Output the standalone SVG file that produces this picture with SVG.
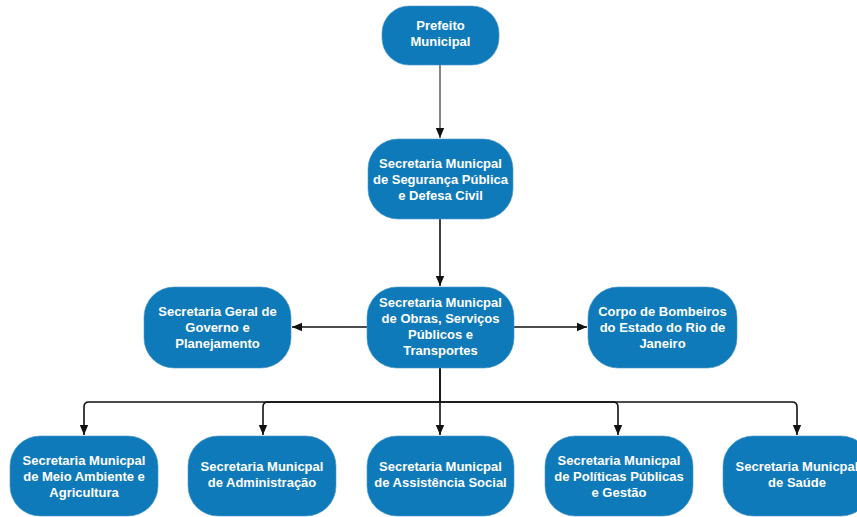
<svg xmlns="http://www.w3.org/2000/svg" width="857" height="517" viewBox="0 0 857 517">
<style>
.n{fill:#0f7ab9;stroke:#4f97c9;stroke-width:0.6}
.t{font-family:"Liberation Sans",Arial,sans-serif;font-weight:bold;font-size:13px;fill:#fff;text-anchor:middle}
.c{fill:none;stroke:#111;stroke-width:1.6}
</style>
<defs>
<marker id="a" markerUnits="userSpaceOnUse" markerWidth="10" markerHeight="10" refX="10" refY="5" orient="auto">
<path d="M0,0.8 L10,5 L0,9.2 z" fill="#111"/>
</marker>
</defs>
<rect width="857" height="517" fill="#fff"/>
<g id="connectors">
<path class="c" style="stroke:#666" d="M440,65 V138" marker-end="url(#a)"/>
<path class="c" d="M440,219 V286" marker-end="url(#a)"/>
<path class="c" d="M367,327 H292" marker-end="url(#a)"/>
<path class="c" d="M514,327 H587" marker-end="url(#a)"/>
<path class="c" d="M440,368 V402 H89 Q84,402 84,407 V435" marker-end="url(#a)"/>
<path class="c" d="M440,402 H268 Q263,402 263,407 V435" marker-end="url(#a)"/>
<path class="c" d="M440,368 V435" marker-end="url(#a)"/>
<path class="c" d="M440,402 H613 Q618,402 618,407 V435" marker-end="url(#a)"/>
<path class="c" d="M440,402 H792 Q797,402 797,407 V435" marker-end="url(#a)"/>
</g>
<g id="prefeito">
<rect class="n" x="382" y="6" width="117" height="59" rx="27"/>
<text class="t" x="440.5" y="30">Prefeito</text>
<text class="t" x="440.5" y="46">Municipal</text>
</g>
<g id="seguranca">
<rect class="n" x="368" y="139" width="145" height="80" rx="30"/>
<text class="t" x="440.5" y="168">Secretaria Municpal</text>
<text class="t" x="440.5" y="184">de Segurança Pública</text>
<text class="t" x="440.5" y="200">e Defesa Civil</text>
</g>
<g id="geral">
<rect class="n" x="144" y="287" width="147" height="81" rx="30"/>
<text class="t" x="217.5" y="316">Secretaria Geral de</text>
<text class="t" x="217.5" y="332">Governo e</text>
<text class="t" x="217.5" y="348">Planejamento</text>
</g>
<g id="obras">
<rect class="n" x="367" y="287" width="147" height="81" rx="30"/>
<text class="t" x="440.5" y="306.5">Secretaria Municpal</text>
<text class="t" x="440.5" y="322.5">de Obras, Serviços</text>
<text class="t" x="440.5" y="338.5">Públicos e</text>
<text class="t" x="440.5" y="354.5">Transportes</text>
</g>
<g id="bombeiros">
<rect class="n" x="588" y="287" width="149" height="81" rx="30"/>
<text class="t" x="662.5" y="316">Corpo de Bombeiros</text>
<text class="t" x="662.5" y="332">do Estado do Rio de</text>
<text class="t" x="662.5" y="348">Janeiro</text>
</g>
<g id="meio-ambiente">
<rect class="n" x="10" y="436" width="148" height="80" rx="30"/>
<text class="t" x="84" y="464.5">Secretaria Municpal</text>
<text class="t" x="84" y="480.5">de Meio Ambiente e</text>
<text class="t" x="84" y="496.5">Agricultura</text>
</g>
<g id="administracao">
<rect class="n" x="188" y="436" width="148" height="80" rx="30"/>
<text class="t" x="262" y="471">Secretaria Municpal</text>
<text class="t" x="262" y="487">de Administração</text>
</g>
<g id="assistencia">
<rect class="n" x="367" y="436" width="147" height="80" rx="30"/>
<text class="t" x="440.5" y="471">Secretaria Municpal</text>
<text class="t" x="440.5" y="487">de Assistência Social</text>
</g>
<g id="politicas">
<rect class="n" x="545" y="436" width="148" height="80" rx="30"/>
<text class="t" x="619" y="464.5">Secretaria Municpal</text>
<text class="t" x="619" y="480.5">de Políticas Públicas</text>
<text class="t" x="619" y="496.5">e Gestão</text>
</g>
<g id="saude">
<rect class="n" x="723" y="436" width="148" height="80" rx="30"/>
<text class="t" x="797" y="471">Secretaria Municpal</text>
<text class="t" x="797" y="487">de Saúde</text>
</g>
</svg>
